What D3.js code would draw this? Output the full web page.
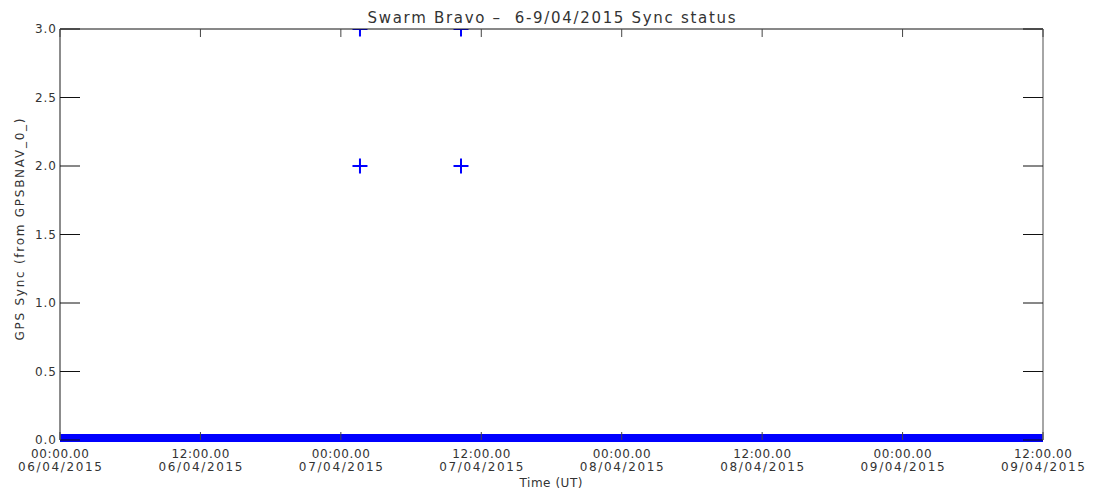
<!DOCTYPE html>
<html>
<head>
<meta charset="utf-8">
<script src="https://cdn.jsdelivr.net/npm/d3@7"></script>
<style>
  body { margin: 0; background: #fff; }
  text { font-family: "DejaVu Sans", sans-serif; fill: #333; }
</style>
</head>
<body>
<div id="chart"></div>
<script>
// data
var syncTimes = ["2015-04-07T01:38", "2015-04-07T10:16", "2015-04-07T01:38", "2015-04-07T10:16"];
var syncValues = [2, 2, 3, 3];
// the dense run of zero values that makes the band along the bottom
var zeroRunStart = "2015-04-06T00:00";
var zeroRunEnd = "2015-04-09T12:00";
var xTickTimes = ["2015-04-06T00:00", "2015-04-06T12:00", "2015-04-07T00:00", "2015-04-07T12:00",
                  "2015-04-08T00:00", "2015-04-08T12:00", "2015-04-09T00:00", "2015-04-09T12:00"];
var yTicks = [0, 0.5, 1, 1.5, 2, 2.5, 3];

var width = 1099, height = 490;
var margin = {top: 29, right: 56, bottom: 50, left: 60};
var parse = d3.utcParse("%Y-%m-%dT%H:%M");

var svg = d3.select("#chart").append("svg")
	.attr("width", width)
	.attr("height", height);

var x = d3.scaleUtc()
	.domain([parse(xTickTimes[0]), parse(xTickTimes[xTickTimes.length - 1])])
	.range([margin.left, width - margin.right]);
var y = d3.scaleLinear()
	.domain([0, 3])
	.range([height - margin.bottom, margin.top]);

var x0 = margin.left, x1 = width - margin.right;
var y0 = height - margin.bottom, y1 = margin.top;

svg.append("clipPath").attr("id", "clip")
	.append("rect")
	.attr("x", x0).attr("y", y1)
	.attr("width", x1 - x0).attr("height", y0 - y1 + 3);

// zero band
svg.append("rect")
	.attr("x", x(parse(zeroRunStart)))
	.attr("y", y(0) - 6)
	.attr("width", x(parse(zeroRunEnd)) - x(parse(zeroRunStart)))
	.attr("height", 8)
	.style("fill", "#0000ff");

// plus markers
var pts = syncTimes.map(function (t, i) { return {t: parse(t), v: syncValues[i]}; });
var plus = svg.append("g").attr("clip-path", "url(#clip)")
	.selectAll("path")
	.data(pts)
	.enter()
	.append("path")
	.attr("d", function (d) {
		var px = x(d.t), py = y(d.v), s = 7.5;
		return "M" + (px - s) + "," + py + "H" + (px + s) + "M" + px + "," + (py - s) + "V" + (py + s);
	})
	.style("stroke", "#0000ff")
	.style("stroke-width", 2)
	.style("fill", "none");

// frame
svg.append("line").attr("x1", x0).attr("x2", x1).attr("y1", y1).attr("y2", y1)
	.style("stroke", "#111").style("stroke-width", 1);
svg.append("line").attr("x1", x0).attr("x2", x0).attr("y1", y1).attr("y2", y0)
	.style("stroke", "#666").style("stroke-width", 1.5);
svg.append("line").attr("x1", x1).attr("x2", x1).attr("y1", y1).attr("y2", y0)
	.style("stroke", "#888").style("stroke-width", 1.5);

// y ticks on both sides
var yt = svg.append("g").selectAll("g").data(yTicks).enter().append("g");
yt.append("line")
	.attr("x1", x0).attr("x2", x0 + 20)
	.attr("y1", function (d) { return y(d); }).attr("y2", function (d) { return y(d); })
	.style("stroke", "#111");
yt.append("line")
	.attr("x1", x1 - 20).attr("x2", x1)
	.attr("y1", function (d) { return y(d); }).attr("y2", function (d) { return y(d); })
	.style("stroke", "#111");
yt.append("text")
	.attr("x", x0 - 4)
	.attr("y", function (d) { return y(d); })
	.attr("dy", "0.35em")
	.attr("text-anchor", "end")
	.attr("textLength", 21)
	.style("font-size", "12px")
	.text(function (d) { return d3.format(".1f")(d); });

// x ticks top and bottom
var fTime = d3.utcFormat("%H:%M.00");
var fDate = d3.utcFormat("%d/%m/%Y");
var xt = svg.append("g").selectAll("g").data(xTickTimes.map(parse)).enter().append("g");
xt.append("line")
	.attr("x1", function (d) { return x(d); }).attr("x2", function (d) { return x(d); })
	.attr("y1", y1).attr("y2", y1 + 8)
	.style("stroke", "#444");
xt.append("line")
	.attr("x1", function (d) { return x(d); }).attr("x2", function (d) { return x(d); })
	.attr("y1", y0 - 8).attr("y2", y0)
	.style("stroke", "#444");
xt.append("text")
	.attr("x", function (d) { return x(d); })
	.attr("y", 458)
	.attr("text-anchor", "middle")
	.attr("textLength", 58)
	.style("font-size", "12px")
	.text(fTime);
xt.append("text")
	.attr("x", function (d) { return x(d); })
	.attr("y", 471)
	.attr("text-anchor", "middle")
	.attr("textLength", 84)
	.style("font-size", "12px")
	.text(fDate);

// titles
svg.append("text")
	.attr("x", (x0 + x1) / 2)
	.attr("y", 23)
	.attr("text-anchor", "middle")
	.attr("textLength", 368)
	.style("font-size", "15px")
	.style("white-space", "pre")
	.text("Swarm Bravo \u2013  6-9/04/2015 Sync status");
svg.append("text")
	.attr("x", 551)
	.attr("y", 487)
	.attr("text-anchor", "middle")
	.attr("textLength", 63)
	.style("font-size", "12px")
	.text("Time (UT)");
svg.append("text")
	.attr("transform", "translate(24," + ((y0 + y1) / 2 - 5) + ") rotate(-90)")
	.attr("text-anchor", "middle")
	.attr("textLength", 222)
	.style("font-size", "12px")
	.text("GPS Sync (from GPSBNAV_0_)");
</script>
</body>
</html>
